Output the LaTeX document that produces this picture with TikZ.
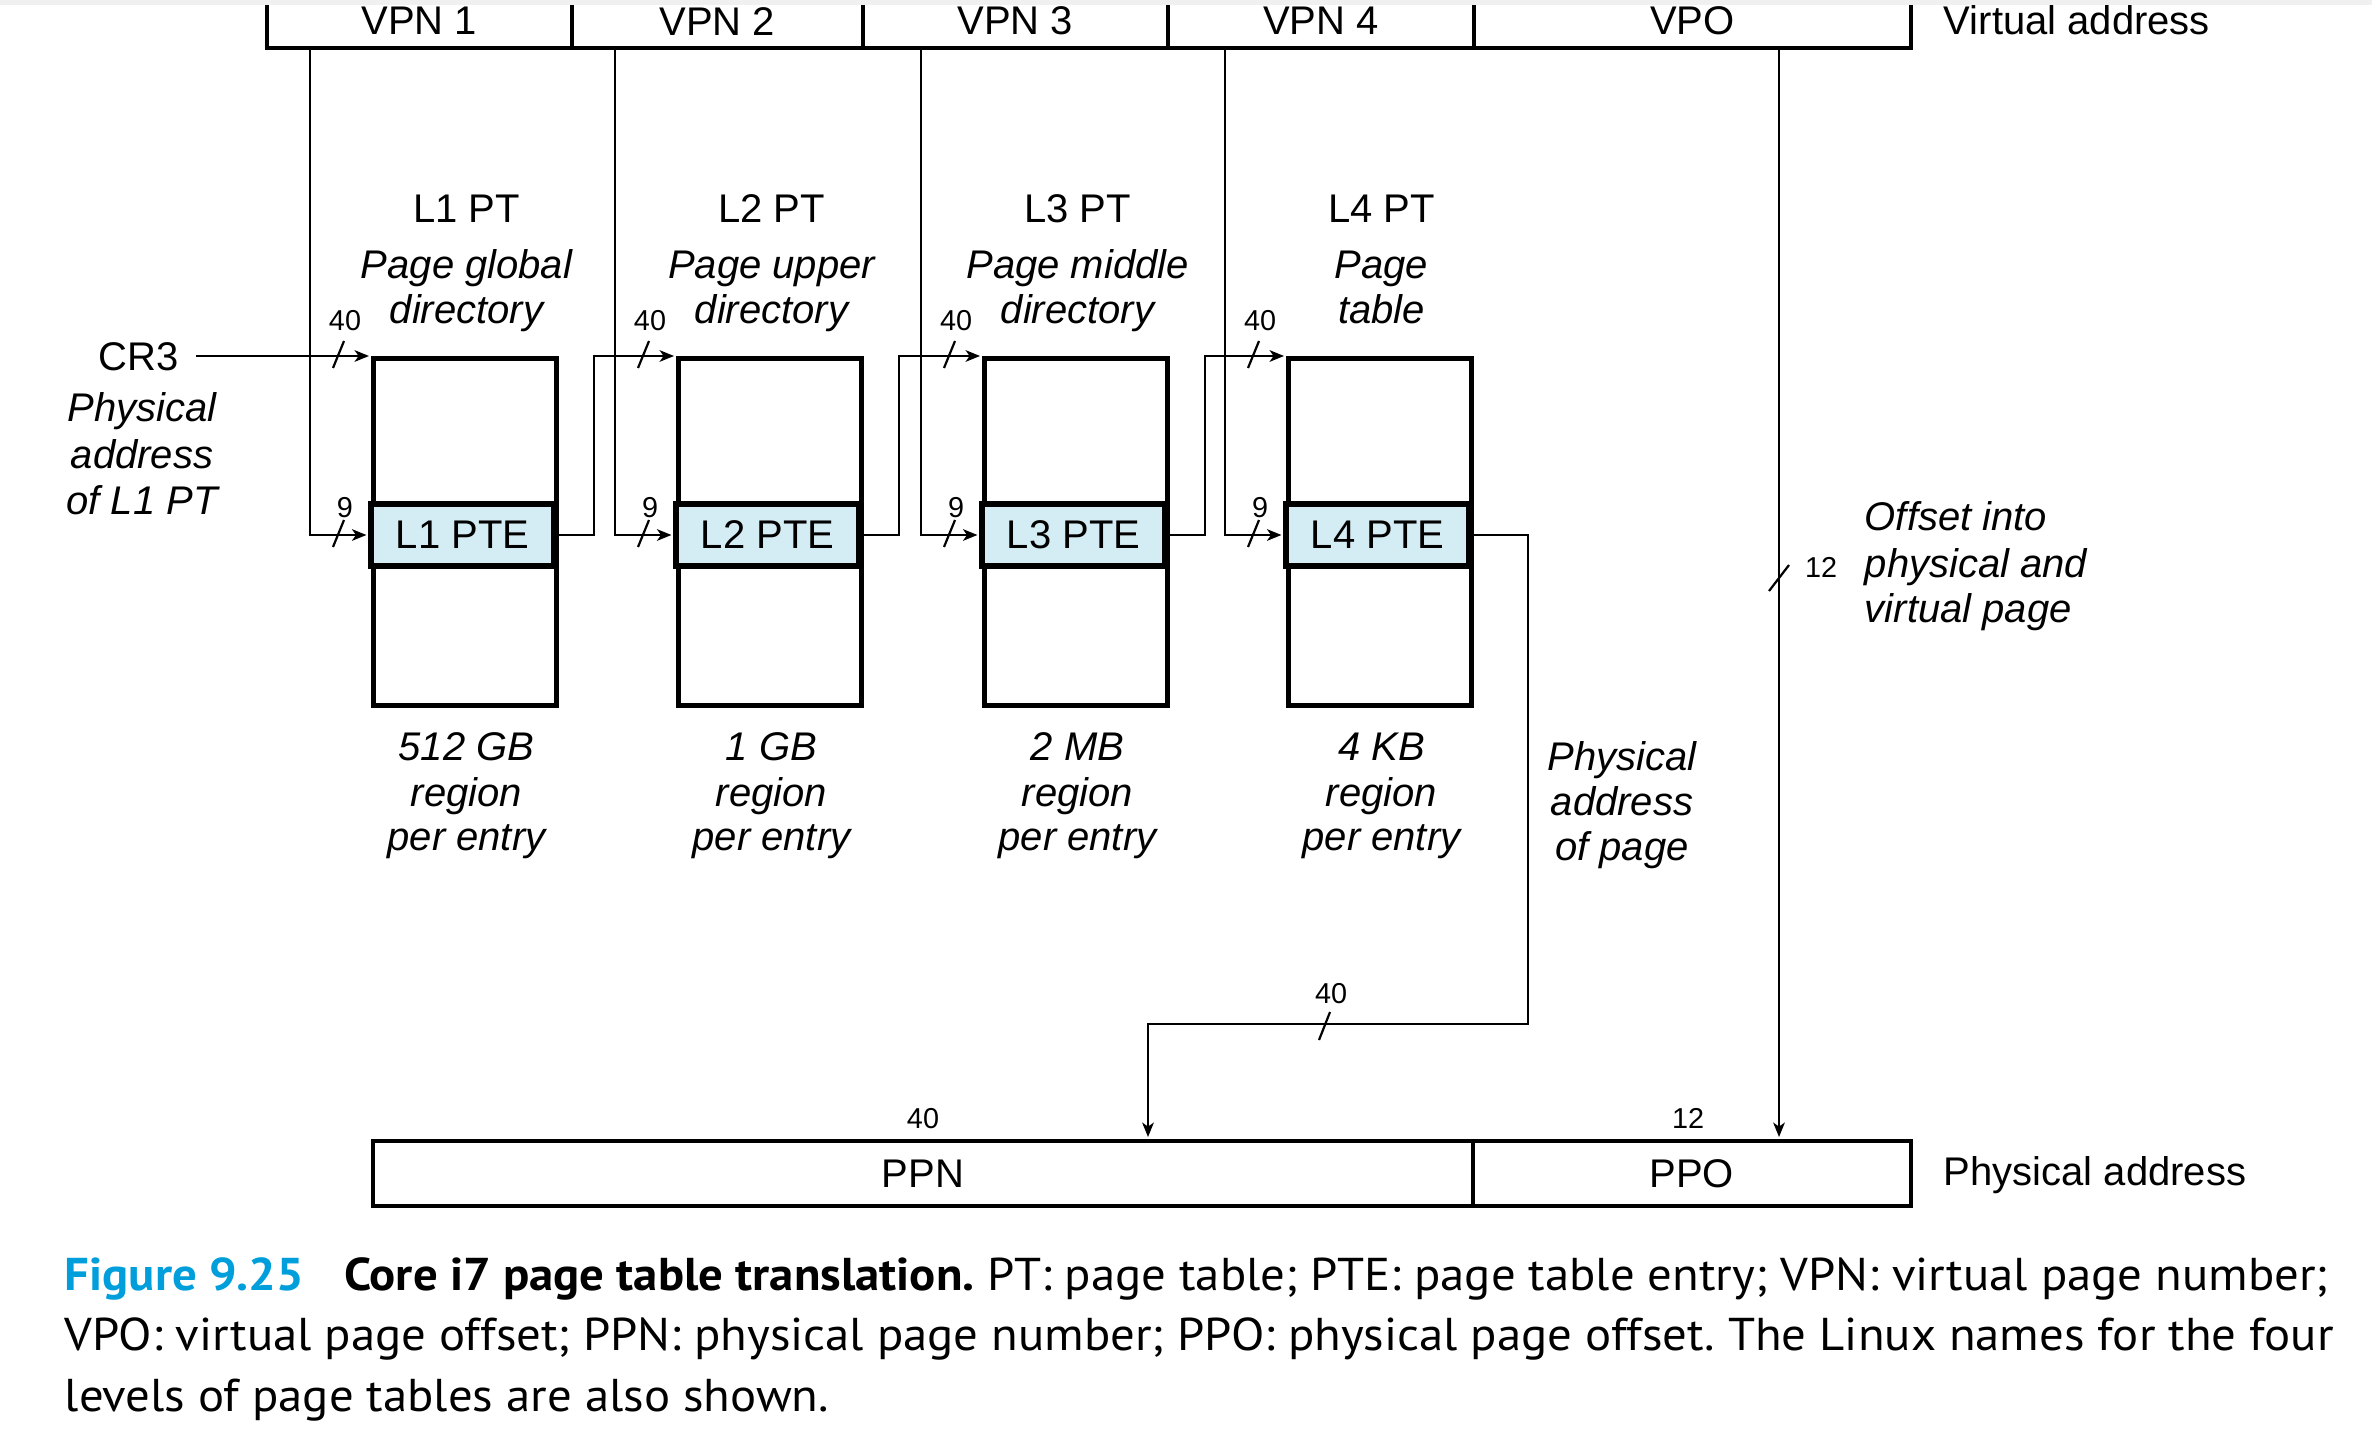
\documentclass[tikz,border=0pt]{standalone}
\usepackage{fontspec}
\setmainfont{Liberation Sans}
\newfontfamily\capfont[FakeStretch=1.06]{PT Sans}
\usetikzlibrary{arrows.meta,calc}
\definecolor{ptefill}{RGB}{212,236,243}
\definecolor{figblue}{RGB}{0,158,219}
\frenchspacing
\begin{document}
\begin{tikzpicture}[x=0.25pt,y=-0.25pt,
  conn/.style={line width=0.55pt},
  arr/.style={conn,-{Stealth[length=3.6pt,width=2.9pt,inset=1pt]},shorten >=0.5pt},
  field/.style={draw,line width=0.9pt,inner sep=0pt,minimum height=13.5pt,
    font=\fontsize{10}{12}\selectfont,anchor=south west},
  pfield/.style={draw,line width=0.9pt,inner sep=0pt,minimum height=16.25pt,
    font=\fontsize{10}{12}\selectfont,anchor=north west},
  tab/.style={draw,line width=1.3pt,inner sep=0pt,minimum width=45.75pt,
    minimum height=86.75pt,anchor=north west},
  pte/.style={draw,fill=ptefill,line width=1.3pt,inner sep=0pt,minimum width=45.75pt,
    minimum height=15.5pt,font=\fontsize{10}{12}\selectfont},
  lbl/.style={inner sep=0pt,font=\fontsize{10}{12}\selectfont,anchor=base},
  ilbl/.style={inner sep=0pt,font=\fontsize{10}{12}\selectfont\itshape,anchor=base},
  bits/.style={inner sep=0pt,font=\fontsize{7.2}{8}\selectfont,anchor=base},
  tick/.style={line width=0.55pt},
  captxt/.style={inner sep=0pt,anchor=base west,font=\capfont\fontsize{11.5}{14}\selectfont},
]
\useasboundingbox (0,0) rectangle (2372,1454);

% virtual address fields
\node[field,minimum width=76.25pt] (vpn1) at (265,50) {VPN 1};
\node[field,minimum width=72.75pt] (vpn2) at (570,50) {VPN 2};
\node[field,minimum width=76.25pt] (vpn3) at (861,50) {VPN 3};
\node[field,minimum width=76.5pt]  (vpn4) at (1166,50) {VPN 4};
\node[field,minimum width=109.25pt] (vpo) at (1472,50) {VPO};
\node[lbl,anchor=base west] (vaddr) at (1943,35) {Virtual address};

% physical address fields
\node[pfield,minimum width=275pt] (ppn) at (371,1139) {PPN};
\node[pfield,minimum width=109.5pt] (ppo) at (1471,1139) {PPO};
\node[lbl,anchor=base west] (paddr) at (1943,1185) {Physical address};

% the four page-table levels
\foreach \i/\xl/\la/\lb/\sz in {1/371/Page global/directory/512 GB,
                                 2/676/Page upper/directory/1 GB,
                                 3/982/Page middle/directory/2 MB,
                                 4/1286/Page/table/4 KB}{
  \node[tab] (tab\i) at (\xl,356) {};
  \node[pte] (pte\i) at (\xl+91.5,535) {L\i\ PTE};
  \node[lbl]  (name\i) at (\xl+95.5,223) {L\i\ PT};
  \node[ilbl] (linA\i) at (\xl+95.5,279) {\la};
  \node[ilbl] (linB\i) at (\xl+95.5,324) {\lb};
  \node[ilbl] (szA\i) at (\xl+95.5,760) {\sz};
  \node[ilbl] (szB\i) at (\xl+95.5,806) {region};
  \node[ilbl] (szC\i) at (\xl+95.5,850) {per entry};
  % bit-width marks on the two inputs
  \node[bits] (wb\i) at (\xl-26,331) {40};
  \node[bits] (wi\i) at (\xl-26,517) {9};
  \draw[tick] (\xl-38,368) -- (\xl-27,341);
  \draw[tick] (\xl-38,547) -- (\xl-27,520);
  % index bits from the virtual address
  \coordinate (idx\i) at (\xl-61,0);
  \draw[arr] (vpn\i.south -| idx\i) |- (pte\i.west);
}

% CR3 base pointer
\node[lbl] (cr3) at (139,370) {CR3};
\node[ilbl] (crA) at (142,421) {Physical};
\node[ilbl] (crB) at (142,468) {address};
\node[ilbl] (crC) at (142,514) {of L1 PT};
\draw[arr] ([xshift=4pt]cr3.east |- tab1.north west) -- (tab1.north west);

% each PTE gives the base of the next table
\draw[arr] (pte1.east) -- ++(37,0) |- (tab2.north west);
\draw[arr] (pte2.east) -- ++(37,0) |- (tab3.north west);
\draw[arr] (pte3.east) -- ++(37,0) |- (tab4.north west);

% L4 PTE gives the physical page number
\coordinate (ppnin) at (1148,1024);
\draw[arr] (pte4.east) -- ++(56,0) |- (ppnin) -- (ppnin |- ppn.north);
\draw[tick] (1319,1040) -- (1330,1012);
\node[bits] (wppn) at (1331,1003) {40};
\node[ilbl] (ppA) at (1622,770) {Physical};
\node[ilbl] (ppB) at (1622,815) {address};
\node[ilbl] (ppC) at (1622,860) {of page};

% page offset passes straight through
\coordinate (offln) at (1779,0);
\draw[arr] (vpo.south -| offln) -- (ppo.north -| offln);
\draw[tick] (1769,591) -- (1789,565);
\node[bits] (woff) at (1821,577) {12};
\node[ilbl,anchor=base west] (ofA) at (1864,530) {Offset into};
\node[ilbl,anchor=base west] (ofB) at (1864,577) {physical and};
\node[ilbl,anchor=base west] (ofC) at (1864,622) {virtual page};

% field widths of the physical address
\node[bits] (bppn) at (923,1128) {40};
\node[bits] (bppo) at (1688,1128) {12};

% caption
\node[captxt] (cap1) at (64,1290) {\textcolor{figblue}{\bfseries Figure 9.25}\hspace{10pt}\textbf{Core i7 page table translation.} PT: page table; PTE: page table entry; VPN: virtual page number;};
\node[captxt] (cap2) at (64,1350.5) {VPO: virtual page offset; PPN: physical page number; PPO: physical page offset. The Linux names for the four};
\node[captxt] (cap3) at (64,1411) {levels of page tables are also shown.};

% light strip along the top edge
\fill[gray!12] (0,0) rectangle (2372,5);
\end{tikzpicture}
\end{document}
